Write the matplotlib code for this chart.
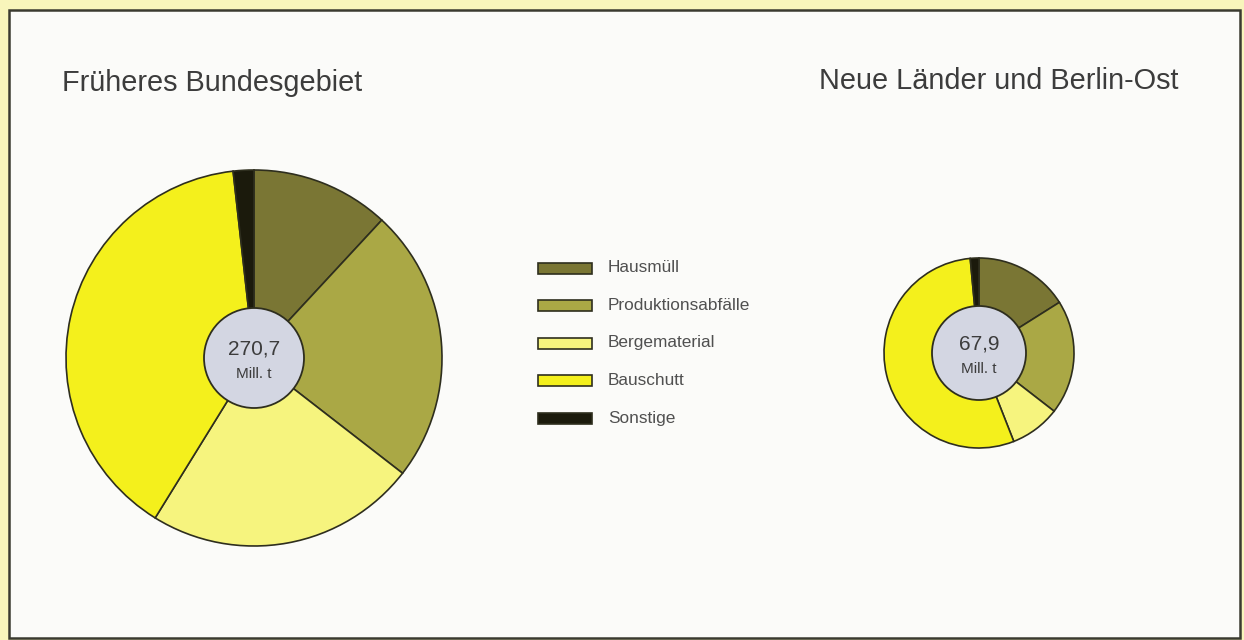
import matplotlib
matplotlib.use("Agg")
import matplotlib.pyplot as plt
from matplotlib.patches import Rectangle, Circle

# Abfallaufkommen in Mill. t
categories = ["Hausmüll", "Produktionsabfälle", "Bergematerial", "Bauschutt", "Sonstige"]
colors = ["#7a7634", "#aaa845", "#f6f47e", "#f4f01c", "#1b1a0c"]

west_values = [32.2, 63.9, 63.1, 106.7, 4.8]
east_values = [10.9, 13.2, 5.8, 37.0, 1.0]
west_total = "270,7"
east_total = "67,9"
titles = ["Früheres Bundesgebiet", "Neue Länder und Berlin-Ost"]

plt.rcParams['font.family'] = ['Liberation Sans', 'DejaVu Sans']

W, H = 1244, 640
fig = plt.figure(figsize=(W / 100, H / 100), dpi=100)
fig.patch.set_facecolor("#f8f5bb")
ax = fig.add_axes([0, 0, 1, 1])
ax.set_xlim(0, W)
ax.set_ylim(0, H)
ax.set_aspect("equal")
ax.axis("off")

# white panel with dark frame
ax.add_patch(Rectangle((9, 2), 1231, 628, facecolor="#fbfbf9",
                       edgecolor="#3a3a30", linewidth=1.8, zorder=0))

txt = "#3c3c3c"
ax.text(62, 640 - 83, titles[0], fontsize=20.8, color=txt, va="center", ha="left")
ax.text(819, 640 - 81, titles[1], fontsize=20.8, color=txt, va="center", ha="left")

def donut(values, center, radius, hole, total):
    ax.pie(values, colors=colors, startangle=90, counterclock=False,
           center=center, radius=radius, frame=True,
           wedgeprops=dict(edgecolor="#2e2e1e", linewidth=1.2))
    ax.add_patch(Circle(center, hole, facecolor="#d3d6e2",
                        edgecolor="#2e2e1e", linewidth=1.3, zorder=5))
    ax.text(center[0], center[1] + 9, total, fontsize=15, color=txt,
            ha="center", va="center", zorder=6)
    ax.text(center[0], center[1] - 16, "Mill. t", fontsize=11, color=txt,
            ha="center", va="center", zorder=6)

donut(west_values, (254, 640 - 358), 188, 50, west_total)
donut(east_values, (979, 640 - 353), 95, 47, east_total)

# restore limits after pie
ax.set_xlim(0, W)
ax.set_ylim(0, H)
ax.axis("off")

# legend
for i, (lab, col) in enumerate(zip(categories, colors)):
    y = 640 - (268 + i * 37.5)
    ax.add_patch(Rectangle((538, y - 5.5), 54, 11, facecolor=col,
                           edgecolor="#2e2e1e", linewidth=1.2))
    ax.text(608, y, lab, fontsize=12.4, color="#505050", va="center", ha="left")

fig.savefig("out.png", dpi=100, facecolor=fig.get_facecolor())
